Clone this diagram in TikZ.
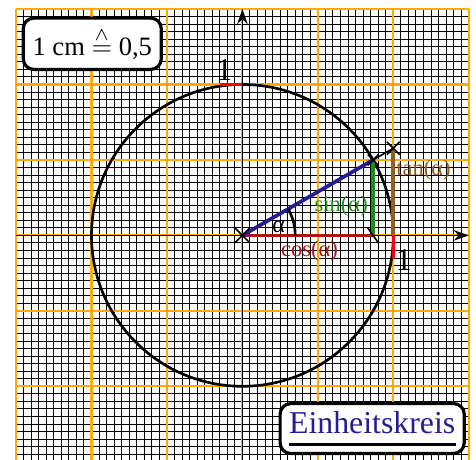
\documentclass[tikz,border=0pt]{standalone}
\usepackage{amsmath}
\usepackage{fontspec}
\setmainfont{Liberation Serif}
\usetikzlibrary{arrows.meta,shapes.misc}
\definecolor{gridorange}{RGB}{255,170,0}
\definecolor{kreisblue}{RGB}{35,30,150}
\definecolor{cosred}{RGB}{175,20,20}
\definecolor{singreen}{RGB}{25,145,25}
\definecolor{tanbrown}{RGB}{145,95,25}

\begin{document}
\begin{tikzpicture}[
      crossmark/.style={cross out, draw, line width=0.6pt, minimum size=1.5mm, inner sep=0pt},
      labelbox/.style={rounded corners=4pt, draw, line width=1.2pt, fill=white, inner sep=3pt},
      trig/.style={line width=1.4pt},
      trigtext/.style={font=\fontsize{8.5}{10}\selectfont, inner sep=1pt}
    ]
      \useasboundingbox (-3.213,-2.964) rectangle (3.096,3.12);

      % Grid: millimetre paper with orange centimetre lines
      \draw[line width=0.35pt] (-3,-3) grid[step=0.1] (3,3);
      \draw[gridorange, line width=0.8pt] (-3,-3) grid[step=1] (3,3);

      % Axes
      \coordinate (xstart) at (-3,0);
      \coordinate (xend) at (3,0);
      \coordinate (ystart) at (0,-3);
      \coordinate (yend) at (0,3);
      \draw[line width=0.5pt, -{Stealth[length=2mm, width=1.4mm]}] (xstart) -- (xend);
      \draw[line width=0.5pt, -{Stealth[length=2mm, width=1.4mm]}] (ystart) -- (yend);

      % Unit circle (radius 2cm = 1)
      \coordinate (O) at (0,0);
      \coordinate (P) at (30:2);
      \coordinate (F) at (P |- O);
      \coordinate (A) at (2,0);
      \coordinate (T) at (2,{2*tan(30)});
      \draw[line width=1pt] (O) circle[radius=2];

      % Unit marks
      \coordinate (ytick) at (-0.3,2);
      \coordinate (ytop) at (0,2);
      \coordinate (xtick) at (2,-0.3);
      \draw[red, line width=1.2pt] (ytick) -- (ytop);
      \draw[red, line width=1.2pt] (A) -- (xtick);
      \node[font=\large] (oney) at (-0.24,2.19) {1};
      \node[font=\large] (onex) at (2.14,-0.32) {1};

      % cos, sin, tan
      \draw[trig, cosred] (O) -- (F);
      \draw[trig, singreen] (F) -- (P);
      \draw[trig, tanbrown] (A) -- (T);
      \draw[trig, kreisblue] (O) -- (P);
      \draw[line width=0.6pt] (P) -- (T);
      \draw[line width=1pt] (0.7,0) arc[start angle=0, end angle=30, radius=0.7];

      % Marks
      \node[crossmark, minimum size=1.7mm] (mO) at (O) {};
      \node[crossmark, minimum size=1.2mm] (mP) at (P) {};
      \node[crossmark] (mT) at (T) {};
      \draw[line width=0.6pt] ([shift={(-0.07,0.1)}]F) -- ([shift={(0.07,-0.1)}]F);

      % Labels
      \node[trigtext, font=\small] (alpha) at (0.48,0.11) {α};
      \node[trigtext, text=cosred] (coslabel) at (0.89,-0.21) {cos(α)};
      \node[trigtext, text=singreen] (sinlabel) at (1.31,0.39) {sin(α)};
      \node[trigtext, text=tanbrown] (tanlabel) at (2.40,0.87) {tan(α)};

      % Boxes
      \node[labelbox, minimum width=1.83cm, minimum height=0.68cm] (scale) at (-1.99,2.54) {1 cm $\stackrel{\wedge}{=}$ 0,5};
      \node[labelbox, text=kreisblue, font=\large, minimum width=2.44cm, minimum height=0.65cm] (kreis) at (1.72,-2.56) {\rlap{\color{black}\rule[-4.5pt]{2.21cm}{1.1pt}}Einheitskreis};
    \end{tikzpicture}
\end{document}
